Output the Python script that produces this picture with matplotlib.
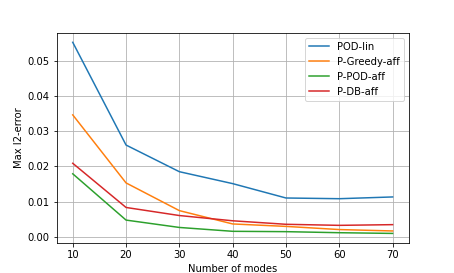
import numpy as np
import matplotlib
matplotlib.use('Agg')
import matplotlib.pyplot as plt

modes = [10, 20, 30, 40, 50, 60, 70]
pod_lin = [0.0554, 0.0261, 0.0185, 0.0151, 0.0110, 0.0108, 0.0113]
p_greedy_aff = [0.0347, 0.0153, 0.0074, 0.0036, 0.0029, 0.0020, 0.0016]
p_pod_aff = [0.0179, 0.0047, 0.0026, 0.0015, 0.0014, 0.0011, 0.0009]
p_db_aff = [0.0209, 0.0083, 0.0060, 0.0045, 0.0035, 0.0032, 0.0034]

fig = plt.figure(figsize=(454/72, 273/72), dpi=72)
plt.plot(modes, pod_lin, label='POD-lin')
plt.plot(modes, p_greedy_aff, label='P-Greedy-aff')
plt.plot(modes, p_pod_aff, label='P-POD-aff')
plt.plot(modes, p_db_aff, label='P-DB-aff')
plt.legend()
plt.ylabel('Max l2-error')
plt.xlabel('Number of modes')
plt.grid()
plt.savefig('out.png', dpi=72)
